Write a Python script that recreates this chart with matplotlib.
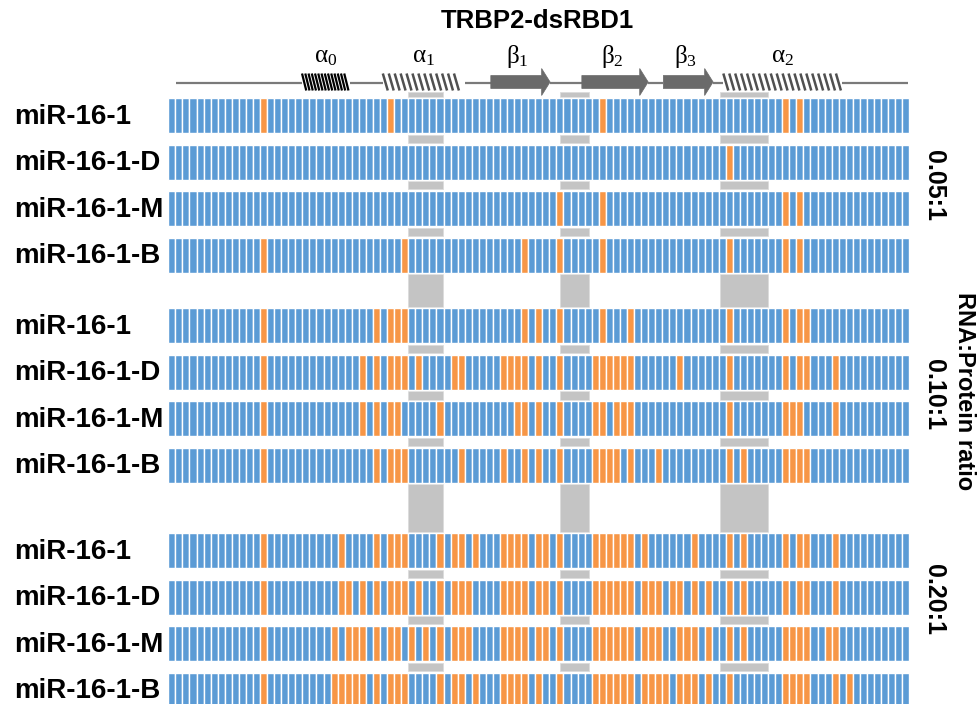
import matplotlib
matplotlib.use("Agg")
import matplotlib.pyplot as plt
from matplotlib.patches import Rectangle, Polygon
import numpy as np

# ---------------- data ----------------
n_residues = 105
constructs = ["miR-16-1", "miR-16-1-D", "miR-16-1-M", "miR-16-1-B"]
ratios = ["0.05:1", "0.10:1", "0.20:1"]

# residues (0-based positions) that are protected / perturbed (orange)
r005_wt = [13, 31, 61, 87, 89]
r005_d = [79]
r005_m = [55, 61, 87, 89]
r005_b = [13, 33, 50, 55, 61, 79, 87, 89]

r010_wt = [13, 29, 31, 32, 33, 50, 52, 55, 61, 65, 79, 87, 89, 90]
r010_d = [13, 27, 29, 31, 32, 33, 35, 40, 41, 47, 48, 49, 50, 52, 55, 60, 61, 62,
          63, 64, 65, 72, 79, 87, 89, 90, 94]
r010_m = [13, 27, 29, 31, 32, 38, 49, 50, 52, 55, 60, 61, 63, 64, 65, 79, 87, 88,
          89, 94]
r010_b = [13, 29, 31, 32, 33, 41, 47, 50, 52, 55, 60, 61, 62, 63, 65, 69, 79, 81,
          87, 88, 89, 90]

r020_wt = [13, 24, 29, 31, 32, 33, 38, 40, 41, 43, 47, 48, 49, 50, 52, 53, 55, 60,
           61, 62, 63, 64, 65, 67, 74, 79, 81, 87, 89, 90, 94]
r020_d = [13, 24, 25, 27, 29, 31, 32, 33, 35, 38, 40, 41, 42, 47, 48, 49, 50, 52,
          53, 55, 60, 61, 62, 63, 64, 65, 67, 68, 69, 71, 72, 74, 76, 79, 81, 87,
          89, 90, 94]
r020_m = [13, 23, 25, 26, 27, 29, 31, 32, 34, 36, 38, 40, 41, 42, 47, 48, 49, 50,
          52, 53, 55, 60, 61, 62, 63, 64, 65, 67, 68, 69, 72, 73, 74, 76, 79, 81,
          87, 88, 89, 90, 93, 94]
r020_b = [13, 23, 24, 25, 26, 27, 29, 31, 32, 33, 38, 40, 41, 43, 47, 48, 49, 50,
          52, 55, 60, 61, 62, 63, 64, 65, 67, 68, 69, 70, 72, 73, 74, 76, 79, 87,
          88, 89, 90, 94, 96]

groups = [
    [r005_wt, r005_d, r005_m, r005_b],
    [r010_wt, r010_d, r010_m, r010_b],
    [r020_wt, r020_d, r020_m, r020_b],
]

# highlighted RNA-binding regions (residue units)
binding_regions = [(33.9, 38.9), (55.5, 59.6), (78.2, 85.0)]

# secondary structure of the domain (residue units)
helices = [("α", "0", 18.95, 25.75, "dense"), ("α", "1", 30.4, 42.0, "open"),
           ("α", "2", 78.65, 95.5, "open")]
strands = [("β", "1", 45.7, 54.1), ("β", "2", 58.6, 68.0), ("β", "3", 70.15, 77.2)]
chain_span = (1.1, 104.8)

# ---------------- style ----------------
blue = "#5B9BD5"
orange = "#F79646"
grey = "#C4C4C4"
dark = "#6A6A6A"

plt.rcParams["mathtext.fontset"] = "custom"
plt.rcParams["mathtext.rm"] = "Liberation Serif"
plt.rcParams["mathtext.it"] = "Liberation Serif"

W, H = 980, 704
fig = plt.figure(figsize=(W / 100, H / 100), dpi=100)
ax = fig.add_axes([0, 0, 1, 1])
ax.axis("off")

x0_px, cell_px = 168.3, 7.057           # pixel position of residue 0 and width
def px(xp):
    return (xp - x0_px) / cell_px

ax.set_xlim(px(0), px(W))
ax.set_ylim(H, 0)

# row layout (pixel rows, y downward)
group_tops = [98.3, 308.4, 533.3]
row_pitch, row_h = 46.4, 35.0
row_tops = [g + k * row_pitch for g in group_tops for k in range(4)]

# ---- grey binding-region bands between rows ----
pad = 1.7
seg_edges = [(91.5, row_tops[0] - pad)]
for a, b in zip(row_tops[:-1], row_tops[1:]):
    seg_edges.append((a + row_h + pad, b - pad))
for (r0, r1) in binding_regions:
    for (y0, y1) in seg_edges:
        ax.add_patch(Rectangle((r0, y0), r1 - r0, y1 - y0, facecolor=grey,
                               edgecolor="#DCDCDC", linewidth=0.6, zorder=1))

# ---- residue rows ----
idx = np.arange(n_residues)
rows = [r for g in groups for r in g]
for top, hits in zip(row_tops, rows):
    cols = [orange if i in hits else blue for i in idx]
    ax.bar(idx, row_h, bottom=top, width=1.0, align="edge", color=cols,
           edgecolor="white", linewidth=1.0, zorder=2)

# ---- row labels ----
for top, name in zip(row_tops, constructs * 3):
    ax.text(px(14), top + row_h / 2 + 1, name, fontsize=20, fontweight="bold",
            family="Liberation Sans", ha="left", va="center", color="black")

# ---- ratio labels ----
ratio_centres = [185, 395, 600]
for yc, lab in zip(ratio_centres, ratios):
    ax.text(px(934), yc, lab, fontsize=18, fontweight="bold", rotation=270,
            family="Liberation Sans", ha="center", va="center")
ax.text(px(964), 391, "RNA:Protein ratio", fontsize=17, fontweight="bold",
        rotation=270, family="Liberation Sans", ha="center", va="center")

# ---- title ----
ax.text(px(537), 21, "TRBP2-dsRBD1", fontsize=18.5, fontweight="bold",
        family="Liberation Sans", ha="center", va="center")

# ---- topology diagram ----
line_y = 82.5
elements = sorted([(h[2], h[3]) for h in helices] + [(s[2], s[3]) for s in strands])
pts = [chain_span[0]]
for a, b in elements:
    pts += [a, b]
pts.append(chain_span[1])
for a, b in zip(pts[0::2], pts[1::2]):
    ax.plot([a, b], [line_y, line_y], color="#7A7A7A", lw=1.6,
            solid_capstyle="butt", zorder=3)

for sym, sub, a, b, kind in helices:
    if kind == "dense":
        step, color, lw, slant = 0.46, "black", 1.6, 0.6
    else:
        step, color, lw, slant = 0.84, "#505050", 1.8, 0.7
    xs = np.arange(a, b - slant + 1e-6, step)
    for xx in xs:
        ax.plot([xx, xx + slant], [73.5, 90.5], color=color, lw=lw,
                solid_capstyle="butt", zorder=4)
    ax.text((a + b) / 2, 56, rf"${sym}_{{{sub}}}$", fontsize=18,
            ha="center", va="center", zorder=5)

for sym, sub, a, b in strands:
    head = 1.2
    body_t, body_b, head_t, head_b = 75.5, 88.5, 68.5, 95.5
    poly = [(a, body_t), (b - head, body_t), (b - head, head_t), (b, line_y - 0.5),
            (b - head, head_b), (b - head, body_b), (a, body_b)]
    ax.add_patch(Polygon(poly, closed=True, facecolor=dark, edgecolor=dark,
                         linewidth=0.5, zorder=4))
    ax.text((a + b) / 2 - 0.4, 56, rf"${sym}_{{{sub}}}$", fontsize=18,
            ha="center", va="center", zorder=5)

fig.savefig("out.png", dpi=100)
